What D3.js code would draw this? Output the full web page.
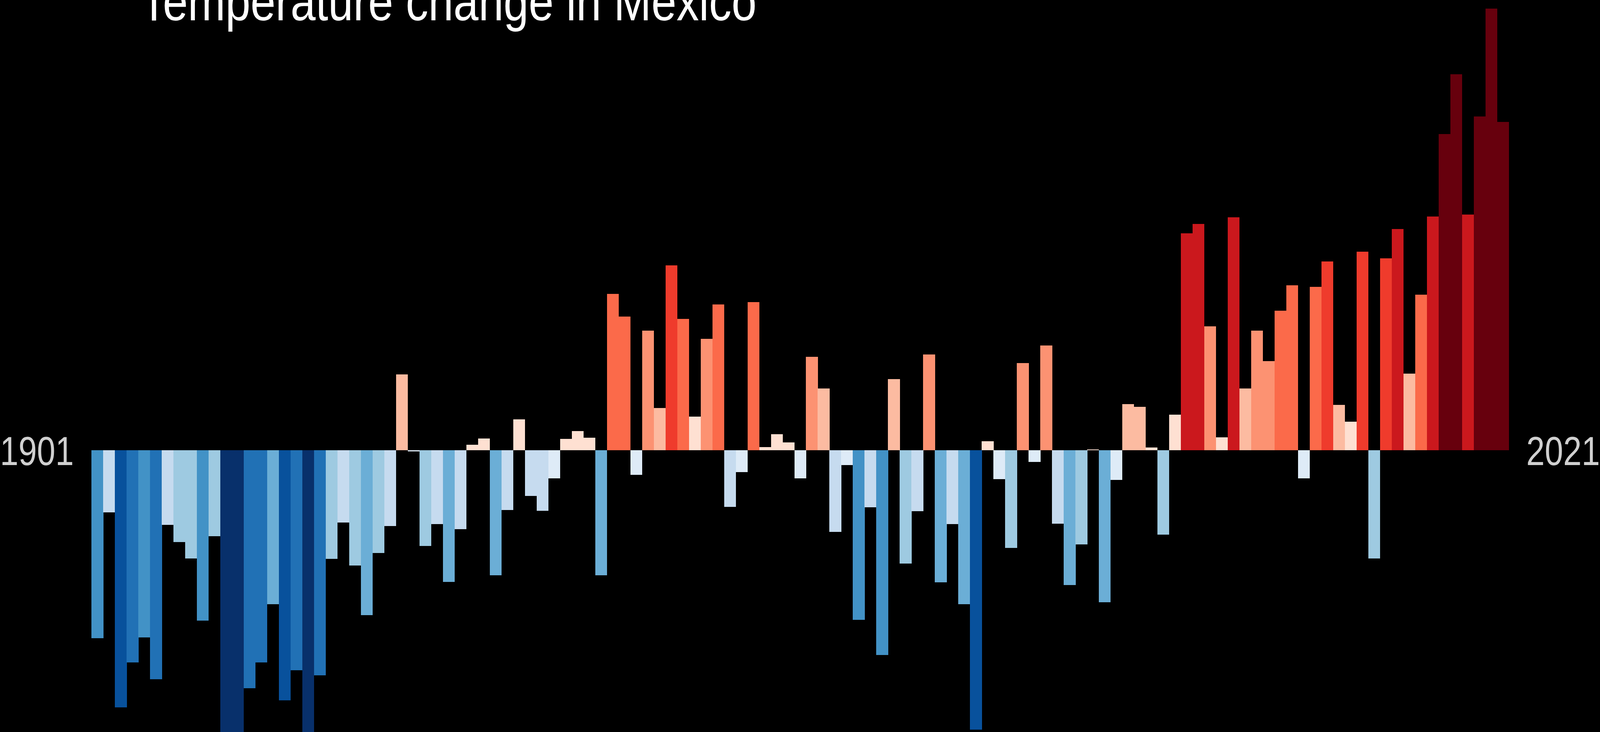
<!DOCTYPE html>
<html>
<head>
<meta charset="utf-8">
<script src="https://cdn.jsdelivr.net/npm/d3@7"></script>
<style>
  html, body { margin: 0; padding: 0; background: #000; overflow: hidden; width: 100%; height: 100%; }
  svg { display: block; width: 100vw; height: 100vh; }
</style>
</head>
<body>
<script>
// Annual temperature anomaly for Mexico (°C), 1901–2021
const years = d3.range(1901, 2022);
const anomalies = [
  -0.481, -0.159, -0.658, -0.543, -0.479, -0.586, -0.191, -0.235, -0.277, -0.436, // 1901-1910
  -0.220, -0.800, -0.790, -0.609, -0.543, -0.394, -0.640, -0.563, -0.780, -0.576, // 1911-1920
  -0.278, -0.185, -0.295, -0.422, -0.263, -0.194,  0.194, -0.003, -0.245, -0.189, // 1921-1930
  -0.337, -0.202,  0.014,  0.030, -0.320, -0.153,  0.079, -0.117, -0.155, -0.072, // 1931-1940
   0.029,  0.049,  0.032, -0.320,  0.400,  0.342, -0.063,  0.306,  0.108,  0.473, // 1941-1950
   0.336,  0.086,  0.285,  0.373, -0.145, -0.056,  0.379,  0.008,  0.041,  0.020, // 1951-1960
  -0.072,  0.239,  0.158, -0.209, -0.038, -0.434, -0.146, -0.524,  0.182, -0.290, // 1961-1970
  -0.156,  0.245, -0.338, -0.189, -0.394, -0.715,  0.023, -0.074, -0.250,  0.223, // 1971-1980
  -0.030,  0.268, -0.188, -0.345, -0.241,  0.002, -0.389, -0.076,  0.118,  0.111, // 1981-1990
   0.007, -0.216,  0.091,  0.555,  0.579,  0.317,  0.033,  0.596,  0.158,  0.306, // 1991-2000
   0.228,  0.357,  0.422, -0.072,  0.418,  0.483,  0.116,  0.073,  0.508, -0.277, // 2001-2010
   0.491,  0.566,  0.196,  0.398,  0.598,  0.809,  0.962,  0.603,  0.854,  1.130, // 2011-2020
   0.840                                                                          // 2021
];
const stripeColors = [
  "#08306b", "#08519c", "#2171b5", "#4292c6", "#6baed6", "#9ecae1", "#c6dbef", "#deebf7",
  "#fee0d2", "#fcbba1", "#fc9272", "#fb6a4a", "#ef3b2c", "#cb181d", "#a50f15", "#67000d"
];
const colorLimit = 0.848;
const titleText = "Temperature change in Mexico";
const startLabel = "1901";
const endLabel = "2021";

const W = 4969, H = 1873;
const data = years.map((y, i) => ({ year: y, value: anomalies[i] }));

const svg = d3.select("body").append("svg")
  .attr("viewBox", `0 0 ${W} ${H}`)
  .attr("preserveAspectRatio", "none");

svg.append("rect").attr("width", W).attr("height", H).attr("fill", "#000");

const x = d3.scaleBand()
  .domain(years)
  .range([284.2, 4686])
  .padding(0);

const y = d3.scaleLinear()
  .domain([0, 1])
  .range([1152, 152]);

const color = d3.scaleQuantize()
  .domain([-colorLimit, colorLimit])
  .range(stripeColors);

svg.append("g")
  .selectAll("rect")
  .data(data)
  .join("rect")
  .attr("x", d => x(d.year))
  .attr("width", x.bandwidth() + 0.4)
  .attr("y", d => y(Math.max(0, d.value)))
  .attr("height", d => Math.abs(y(d.value) - y(0)))
  .attr("fill", d => color(d.value))
  .attr("shape-rendering", "crispEdges");

const font = "'Liberation Sans', Arial, Helvetica, sans-serif";

svg.append("text")
  .attr("x", x.range()[0] - 55)
  .attr("y", 1190)
  .attr("text-anchor", "end")
  .attr("font-family", font)
  .attr("font-size", 103)
  .attr("fill", "#d0d0d0")
  .text(startLabel);

svg.append("text")
  .attr("x", x.range()[1] + 54)
  .attr("y", 1190)
  .attr("text-anchor", "start")
  .attr("font-family", font)
  .attr("font-size", 103)
  .attr("fill", "#d0d0d0")
  .text(endLabel);

svg.append("text")
  .attr("x", 435.5)
  .attr("y", 52)
  .attr("font-family", font)
  .attr("font-size", 140)
  .attr("fill", "#ffffff")
  .text(titleText);
</script>
</body>
</html>
